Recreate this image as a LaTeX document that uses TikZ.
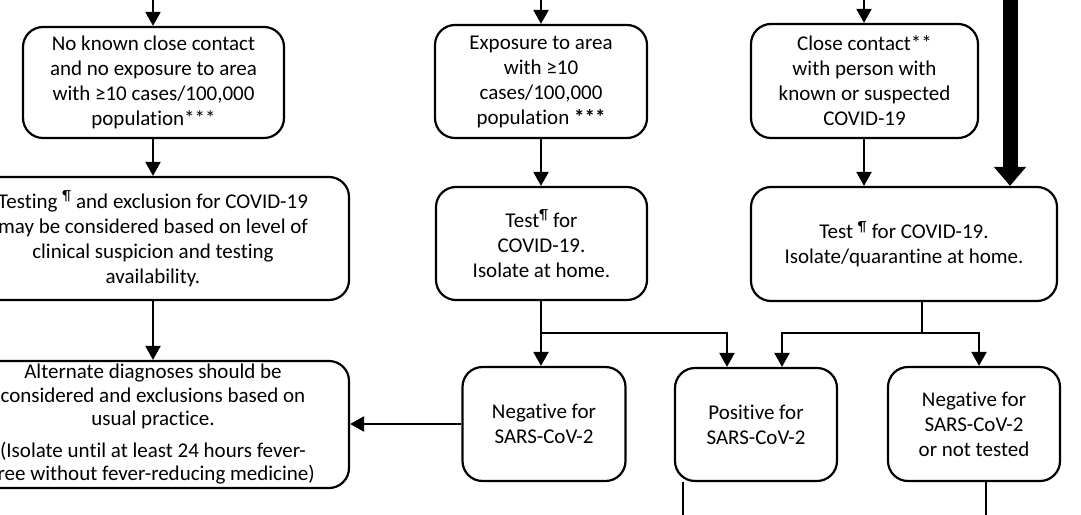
\documentclass[tikz,border=0pt]{standalone}
\usepackage{fontspec}
\setmainfont{Carlito}[Ligatures=NoCommon]
\usetikzlibrary{arrows.meta}
\begin{document}
\begin{tikzpicture}[x=1pt,y=-1pt,
  box/.style={draw, line width=2.2pt, rounded corners=20pt, align=center, inner sep=0pt,
    font=\fontsize{21}{25}\selectfont},
  conn/.style={line width=2.2pt},
  arr/.style={conn, -{Triangle[width=15pt,length=14pt]}},
  thick arr/.style={line width=15pt, -{Triangle[width=31pt,length=19pt]}},
]
\useasboundingbox (0,0) rectangle (1081,514);
\fill[white] (0,0) rectangle (1081,514);

% left column
\node[box, minimum width=261pt, minimum height=111pt] (b1) at (153.5,82.5)
  {No known close contact\\and no exposure to area\\with ≥10 cases/100,000\\population***};
\node[box, minimum width=392pt, minimum height=123pt] (b2) at (153,238.5)
  {Testing \textsuperscript{¶} and exclusion for COVID-19\\may be considered based on level of\\clinical suspicion and testing\\availability.};
\node[box, minimum width=392pt, minimum height=127pt, font=\fontsize{21}{23.5}\selectfont] (b3) at (153,424.5)
  {Alternate diagnoses should be\\considered and exclusions based on\\usual practice.\\[8pt](Isolate until at least 24 hours fever-\\free without fever-reducing medicine)};

% middle column
\node[box, minimum width=212pt, minimum height=113pt] (b4) at (541,81.5)
  {Exposure to area\\with ≥10\\cases/100,000\\population \textbf{***}};
\node[box, minimum width=211pt, minimum height=113pt] (b5) at (541.5,243.5)
  {Test\textsuperscript{¶} for\\COVID-19.\\Isolate at home.};
\node[box, minimum width=163pt, minimum height=114pt] (b6) at (544,424)
  {Negative for\\SARS-CoV-2};
\node[box, minimum width=162pt, minimum height=113pt] (b7) at (756,424.5)
  {Positive for\\SARS-CoV-2};

% right column
\node[box, minimum width=227pt, minimum height=114pt] (b9) at (864.5,81)
  {Close contact**\\with person with\\known or suspected\\COVID-19};
\node[box, minimum width=306pt, minimum height=114pt] (b10) at (904,244)
  {Test \textsuperscript{¶} for COVID-19.\\Isolate/quarantine at home.};
\node[box, minimum width=172pt, minimum height=114pt] (b8) at (974,424)
  {Negative for\\SARS-CoV-2\\or not tested};

% coordinates
\coordinate (t1) at (153,0);
\coordinate (t4) at (541,0);
\coordinate (t9) at (864,0);
\coordinate (tk) at (1010,0);
\coordinate (jm) at (541,333);
\coordinate (jmr) at (727,333);
\coordinate (jr) at (922,333);
\coordinate (jrl) at (782,333);
\coordinate (jrr) at (979,333);
\coordinate (e7) at (683,520);
\coordinate (e8) at (986,520);

% connectors
\draw[arr] (t1) -- (b1.north -| t1);
\draw[arr] (t4) -- (b4.north -| t4);
\draw[arr] (t9) -- (b9.north -| t9);
\draw[thick arr] (tk) -- (b10.north -| tk);

\draw[arr] (b1.south -| t1) -- (b2.north -| t1);
\draw[arr] (b2.south -| t1) -- (b3.north -| t1);

\draw[arr] (b4.south -| t4) -- (b5.north -| t4);
\draw[arr] (b5.south -| t4) -- (b6.north -| t4);
\draw[arr] (jm) -- (jmr) -- (b7.north -| jmr);

\draw[arr] (b9.south -| t9) -- (b10.north -| t9);
\draw[conn] (b10.south -| jr) -- (jr);
\draw[arr] (jr) -- (jrl) -- (b7.north -| jrl);
\draw[arr] (jr) -- (jrr) -- (b8.north -| jrr);

\draw[arr] (b6.west) -- (b3.east |- b6.west);

\draw[conn] (b7.south -| e7) -- (e7);
\draw[conn] (b8.south -| e8) -- (e8);
\end{tikzpicture}
\end{document}
